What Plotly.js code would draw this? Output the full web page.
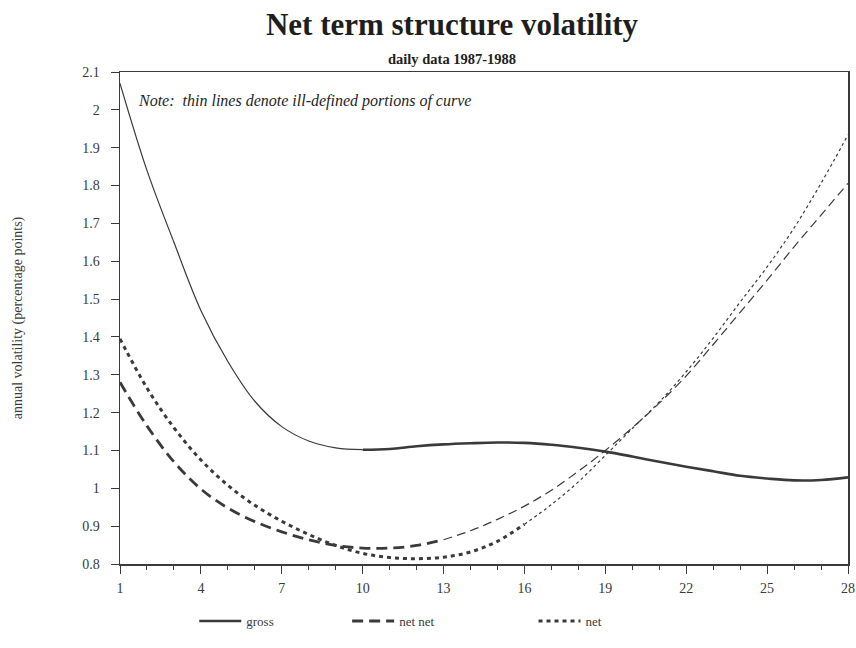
<!DOCTYPE html>
<html>
<head>
<meta charset="utf-8">
<script src="https://cdn.plot.ly/plotly-3.0.1.min.js"></script>
<style>
  html, body { margin: 0; padding: 0; background: #fff; }
  #chart { width: 856px; height: 648px; }
</style>
</head>
<body>
<div id="chart"></div>
<script>
// Maturity (years) on the horizontal axis
const maturity = [1, 2, 3, 4, 5, 6, 7, 8, 9, 10, 11, 12, 13, 14,
                  15, 16, 17, 18, 19, 20, 21, 22, 23, 24, 25, 26, 27, 28];

// Annual volatility, percentage points
const gross = [2.07, 1.84, 1.65, 1.47, 1.335, 1.23, 1.163, 1.125, 1.107, 1.102,
               1.104, 1.111, 1.116, 1.119, 1.121, 1.12, 1.115, 1.107, 1.097, 1.084,
               1.07, 1.057, 1.045, 1.033, 1.026, 1.021, 1.022, 1.029];
const netNet = [1.28, 1.165, 1.07, 0.998, 0.948, 0.912, 0.885, 0.864, 0.849, 0.842,
                0.842, 0.849, 0.864, 0.888, 0.918, 0.953, 0.995, 1.045, 1.1, 1.16,
                1.225, 1.297, 1.38, 1.465, 1.55, 1.638, 1.722, 1.806];
const net = [1.395, 1.265, 1.16, 1.075, 1.008, 0.955, 0.913, 0.878, 0.849, 0.828,
             0.817, 0.814, 0.818, 0.832, 0.86, 0.905, 0.957, 1.017, 1.087, 1.158,
             1.228, 1.308, 1.397, 1.492, 1.585, 1.688, 1.806, 1.934];

// Maturity where each curve switches between well-defined (thick) and ill-defined (thin)
const grossThickFrom = 10;
const netNetThickTo = 13;
const netThickTo = 16;

const xTicks = [1, 4, 7, 10, 13, 16, 19, 22, 25, 28];

const ink = '#3a3a3a';
const serif = '"Liberation Serif", "DejaVu Serif", serif';

function part(xs, ys, lo, hi) {
  const px = [], py = [];
  xs.forEach((v, i) => { if (v >= lo && v <= hi) { px.push(v); py.push(ys[i]); } });
  return { x: px, y: py };
}

function trace(seg, opts) {
  return Object.assign({
    type: 'scatter', mode: 'lines', x: seg.x, y: seg.y,
    hoverinfo: 'skip'
  }, opts);
}

const traces = [
  trace(part(maturity, gross, 1, grossThickFrom),
        { name: 'gross', showlegend: false,
          line: { color: ink, width: 1.2, shape: 'spline' } }),
  trace(part(maturity, gross, grossThickFrom, 28),
        { name: 'gross', legend: 'legend',
          line: { color: ink, width: 2.6, shape: 'spline' } }),
  trace(part(maturity, netNet, 1, netNetThickTo),
        { name: 'net net', legend: 'legend2',
          line: { color: ink, width: 2.8, dash: '11px,6px', shape: 'spline' } }),
  trace(part(maturity, netNet, netNetThickTo, 28),
        { name: 'net net', showlegend: false,
          line: { color: ink, width: 1.2, dash: '9px,5px', shape: 'spline' } }),
  trace(part(maturity, net, 1, netThickTo),
        { name: 'net', legend: 'legend3',
          line: { color: ink, width: 3, dash: '4px,4px', shape: 'spline' } }),
  trace(part(maturity, net, netThickTo, 28),
        { name: 'net', showlegend: false,
          line: { color: ink, width: 1.2, dash: '3px,3px', shape: 'spline' } })
];

const legendBase = {
  orientation: 'h', yanchor: 'middle', xanchor: 'left', y: -0.116,
  bgcolor: 'rgba(0,0,0,0)', borderwidth: 0, itemwidth: 42,
  font: { family: serif, size: 13, color: ink }
};

const layout = {
  width: 856, height: 648,
  margin: { l: 120, r: 8, t: 72, b: 84 },
  paper_bgcolor: '#fff', plot_bgcolor: '#fff',
  font: { family: serif, color: ink },
  title: {
    text: '<b>Net term structure volatility</b>',
    font: { family: serif, size: 31, color: '#1e1e1e' },
    x: (452 - 120) / 728, xref: 'paper', xanchor: 'center', y: 0.962, yanchor: 'middle'
  },
  xaxis: {
    range: [1, 28], tickvals: xTicks, ticktext: xTicks.map(String),
    ticks: 'outside', ticklen: 8, tickwidth: 1, tickcolor: ink,
    showline: true, linecolor: ink, linewidth: 1.5, mirror: true,
    showgrid: false, zeroline: false, ticklabelstandoff: 3,
    tickfont: { family: serif, size: 14, color: ink },
    minor: { dtick: 1, tick0: 1, ticks: 'outside', ticklen: 4, tickcolor: ink, showgrid: false }
  },
  yaxis: {
    range: [0.8, 2.1], dtick: 0.1, tick0: 0.8,
    ticks: 'outside', ticklen: 8, tickwidth: 1, tickcolor: ink,
    showline: true, linecolor: ink, linewidth: 1.5, mirror: true,
    showgrid: false, zeroline: false, ticklabelstandoff: 8,
    tickfont: { family: serif, size: 14, color: ink },
    title: { text: 'annual volatility (percentage points)', standoff: 56,
             font: { family: serif, size: 14, color: ink } }
  },
  legend: Object.assign({}, legendBase, { x: 0.102 }),
  legend2: Object.assign({}, legendBase, { x: 0.312 }),
  legend3: Object.assign({}, legendBase, { x: 0.568 }),
  annotations: [
    { text: '<b>daily data 1987-1988</b>', xref: 'paper', yref: 'paper',
      x: (452 - 120) / 728, y: 1.006, xanchor: 'center', yanchor: 'bottom', showarrow: false,
      font: { family: serif, size: 14.5, color: '#1e1e1e' } },
    { text: '<i>Note:  thin lines denote ill-defined portions of curve</i>', xref: 'paper', yref: 'paper',
      x: 0.022, y: 0.941, xanchor: 'left', yanchor: 'middle', showarrow: false,
      font: { family: serif, size: 16, color: '#1e1e1e' } }
  ]
};

Plotly.newPlot('chart', traces, layout, { displayModeBar: false, staticPlot: true });
</script>
</body>
</html>
